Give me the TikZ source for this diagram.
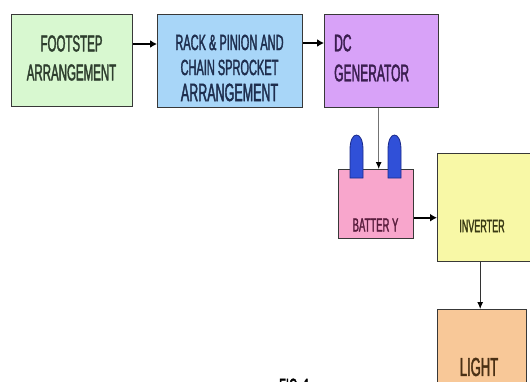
\documentclass[tikz,border=0pt]{standalone}
\usepackage{fontspec}
\newfontfamily\narrowfont[FakeStretch=0.5,FakeBold=1.6]{Liberation Sans}
\usetikzlibrary{arrows.meta}
\definecolor{footfill}{HTML}{D8F8D0}
\definecolor{rackfill}{HTML}{A8D6F8}
\definecolor{genfill}{HTML}{D8A2F8}
\definecolor{battfill}{HTML}{F8A6CC}
\definecolor{invfill}{HTML}{F8F8A6}
\definecolor{lightfill}{HTML}{F8C898}
\definecolor{termfill}{HTML}{3050D8}
\definecolor{termedge}{HTML}{1A2A8A}
\definecolor{footink}{HTML}{2E3E2E}
\definecolor{rackink}{HTML}{1E2E4E}
\definecolor{genink}{HTML}{3A1E50}
\definecolor{battink}{HTML}{5A1E3E}
\definecolor{invink}{HTML}{3A3A14}
\definecolor{lightink}{HTML}{4A3014}
\begin{document}
\begin{tikzpicture}[x=1pt, y=-1pt,
    blockbox/.style={draw=black!78, line width=1.4pt, anchor=north west, inner sep=0pt},
    boxtext/.style={font=\narrowfont\fontsize{#1}{#1}\selectfont, inner sep=0pt},
    flowarrow/.style={-{Latex[length=7pt,width=8pt]}, line width=1.8pt, black},
    droparrow/.style={-{Latex[length=7pt,width=6pt,color=black]}, line width=1pt, black!55}]
    \useasboundingbox[fill=white] (0,0) rectangle (530,381);

    % --- Top row: footstep, rack & pinion, generator ---
    \node[blockbox, fill=footfill, minimum width=121pt, minimum height=92pt] (foot) at (11,14) {};
    \node[boxtext=23, text=footink, align=center] (foottext) at (71.5,58) {FOOTSTEP\\[6pt]ARRANGEMENT};

    \node[blockbox, fill=rackfill, minimum width=145pt, minimum height=93pt] (rack) at (157,14) {};
    \node[boxtext=22, text=rackink, align=center] (racktext) at (229.5,68) {RACK \& PINION AND\\[3pt]CHAIN SPROCKET\\[4pt]{\fontsize{25}{25}\selectfont ARRANGEMENT}};

    \node[blockbox, fill=genfill, minimum width=114pt, minimum height=93pt] (gen) at (324,14) {};
    \node[boxtext=24, text=genink, align=left, anchor=west] (gentext) at (334,58) {DC\\[6pt]GENERATOR};

    % Arrows along the top row
    \draw[flowarrow] ([yshift=-30pt]foot.north east) -- ([yshift=-30pt]rack.north west);
    \draw[flowarrow] ([yshift=-29pt]rack.north east) -- ([yshift=-29pt]gen.north west);

    % --- Battery with its two terminals ---
    \node[blockbox, fill=battfill, minimum width=75pt, minimum height=69pt] (batt) at (338,169) {};
    \foreach \tx in {350,388} {
        \draw[fill=termfill, draw=termedge, line width=0.8pt] (\tx,178) -- (\tx,150)
            .. controls (\tx,140) and (\tx+3,135) .. (\tx+6.5,135)
            .. controls (\tx+10,135) and (\tx+13,140) .. (\tx+13,150) -- (\tx+13,178) -- cycle;
    }
    \node[boxtext=19, text=battink] (batttext) at (375.5,225) {BATTER Y};

    \draw[droparrow] ([xshift=-3pt]gen.south) -- ([xshift=2.5pt]batt.north);

    % --- Inverter and light ---
    \node[blockbox, fill=invfill, minimum width=110pt, minimum height=108pt] (inv) at (437,153) {};
    \node[boxtext=18, text=invink] (invtext) at (482,226) {INVERTER};

    \node[blockbox, fill=lightfill, minimum width=89pt, minimum height=90pt] (light) at (437,309) {};
    \node[boxtext=26, text=lightink] (lighttext) at (479,367) {LIGHT};

    \draw[flowarrow] ([yshift=-13.5pt]batt.east) -- ([yshift=-13.5pt]batt.east -| inv.west);
    \draw[droparrow, black!80] ([xshift=-2pt]inv.south -| light.north) -- ([xshift=-2pt]light.north);

    % Caption, cut by the lower edge
    \node[boxtext=22, anchor=base west] (caption) at (279,394) {FIG. 1};
\end{tikzpicture}
\end{document}
